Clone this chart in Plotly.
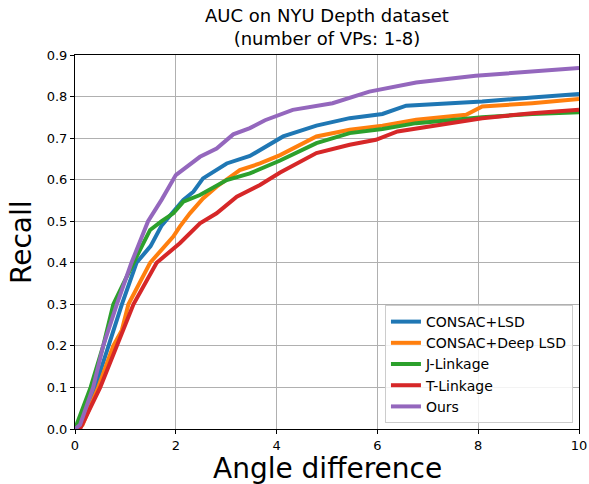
import plotly.graph_objects as go

# ---- data ----
consac_lsd_x = [0, 0.1, 0.4, 0.66, 0.93, 1.22, 1.5, 1.72, 2.0, 2.15, 2.35, 2.54, 3.01, 3.47, 4.13, 4.79, 5.45, 6.1, 6.57, 7.43, 8.08, 9.07, 10]
consac_lsd_y = [0, 0.01, 0.1, 0.2, 0.3, 0.4, 0.44, 0.49, 0.53, 0.551, 0.571, 0.603, 0.639, 0.657, 0.704, 0.73, 0.748, 0.758, 0.778, 0.784, 0.788, 0.798, 0.806]

consac_deep_x = [0, 0.15, 0.46, 0.76, 0.93, 1.06, 1.49, 1.95, 2.08, 2.28, 2.54, 2.81, 3.27, 3.67, 4.07, 4.79, 5.45, 6.1, 6.77, 7.76, 8.08, 9.07, 10]
consac_deep_y = [0, 0.01, 0.1, 0.2, 0.238, 0.3, 0.4, 0.463, 0.487, 0.519, 0.555, 0.583, 0.623, 0.639, 0.659, 0.704, 0.72, 0.73, 0.744, 0.756, 0.776, 0.784, 0.794]

jlinkage_x = [0, 0.31, 0.56, 0.76, 1.16, 1.49, 1.72, 1.95, 2.15, 2.48, 3.01, 3.47, 4.07, 4.79, 5.45, 6.1, 6.77, 8.08, 9.07, 10]
jlinkage_y = [0, 0.1, 0.2, 0.3, 0.4, 0.479, 0.5, 0.519, 0.547, 0.563, 0.599, 0.615, 0.646, 0.688, 0.712, 0.722, 0.736, 0.75, 0.758, 0.762]

tlinkage_x = [0, 0.1, 0.5, 0.83, 1.05, 1.16, 1.62, 2.08, 2.48, 2.81, 3.21, 3.67, 4.07, 4.79, 5.45, 5.97, 6.4, 7.2, 8.08, 9.07, 10]
tlinkage_y = [0, 0.0, 0.1, 0.2, 0.262, 0.3, 0.4, 0.447, 0.495, 0.519, 0.559, 0.587, 0.617, 0.664, 0.684, 0.696, 0.716, 0.732, 0.748, 0.76, 0.768]

ours_x = [0, 0.1, 0.36, 0.56, 0.83, 1.12, 1.45, 1.72, 2.0, 2.48, 2.81, 3.14, 3.47, 3.77, 4.32, 5.11, 5.84, 6.77, 7.95, 8.75, 10]
ours_y = [0, 0.01, 0.1, 0.2, 0.3, 0.4, 0.5, 0.552, 0.611, 0.655, 0.675, 0.709, 0.724, 0.743, 0.768, 0.784, 0.812, 0.834, 0.85, 0.857, 0.869]

series_names = ["CONSAC+LSD", "CONSAC+Deep LSD", "J-Linkage", "T-Linkage", "Ours"]
series_x = [consac_lsd_x, consac_deep_x, jlinkage_x, tlinkage_x, ours_x]
series_y = [consac_lsd_y, consac_deep_y, jlinkage_y, tlinkage_y, ours_y]
colors = ["#1f77b4", "#ff7f0e", "#2ca02c", "#d62728", "#9467bd"]

x_ticks = [0, 2, 4, 6, 8, 10]
y_ticks = [0.0, 0.1, 0.2, 0.3, 0.4, 0.5, 0.6, 0.7, 0.8, 0.9]

title_text = "AUC on NYU Depth dataset<br>(number of VPs: 1-8)"
x_title = "Angle difference"
y_title = "Recall"

fig = go.Figure()
for name, xs, ys, c in zip(series_names, series_x, series_y, colors):
    fig.add_trace(go.Scatter(x=xs, y=ys, mode="lines", name=name,
                             line=dict(color=c, width=4)))

font = "DejaVu Sans"
fig.update_layout(
    width=589, height=484,
    margin=dict(l=75, r=10, t=55, b=55, autoexpand=False),
    paper_bgcolor="white", plot_bgcolor="white",
    font=dict(family=font, color="black"),
    showlegend=True,
    legend=dict(x=0.988, y=0.016, xanchor="right", yanchor="bottom",
                bgcolor="rgba(255,255,255,0.85)", bordercolor="#cccccc",
                borderwidth=1, font=dict(size=14, family=font),
                tracegroupgap=0),
    annotations=[
        dict(text=title_text, xref="paper", yref="paper", x=0.5, y=1,
             xanchor="center", yanchor="middle", yshift=28, showarrow=False,
             font=dict(size=18, family=font, color="black")),
        dict(text=x_title, xref="paper", yref="paper", x=0.5, y=0,
             xanchor="center", yanchor="middle", yshift=-39, showarrow=False,
             borderpad=0, font=dict(size=28, family=font, color="black")),
        dict(text=y_title, xref="paper", yref="paper", x=0, y=0.5,
             xanchor="center", yanchor="middle", xshift=-54, textangle=-90,
             showarrow=False, font=dict(size=28, family=font, color="black")),
    ],
)
fig.update_xaxes(range=[0, 10], tickvals=x_ticks, ticktext=[str(v) for v in x_ticks],
                 showgrid=True, gridcolor="#b0b0b0", gridwidth=1,
                 showline=True, linecolor="black", linewidth=1, mirror=True,
                 ticks="outside", ticklen=4, tickcolor="black", ticklabeloverflow="allow",
                 tickfont=dict(size=13, family=font), zeroline=False, automargin=False)
fig.update_yaxes(range=[0, 0.9], tickvals=y_ticks, ticktext=[f"{v:.1f}" for v in y_ticks],
                 showgrid=True, gridcolor="#b0b0b0", gridwidth=1,
                 showline=True, linecolor="black", linewidth=1, mirror=True,
                 ticks="outside", ticklen=4, tickcolor="black", ticklabeloverflow="allow",
                 tickfont=dict(size=13, family=font), zeroline=False, automargin=False)

fig.write_html("out.html", config={"displayModeBar": False},
               post_script="document.body.style.margin='0px';document.body.style.overflow='hidden';")
